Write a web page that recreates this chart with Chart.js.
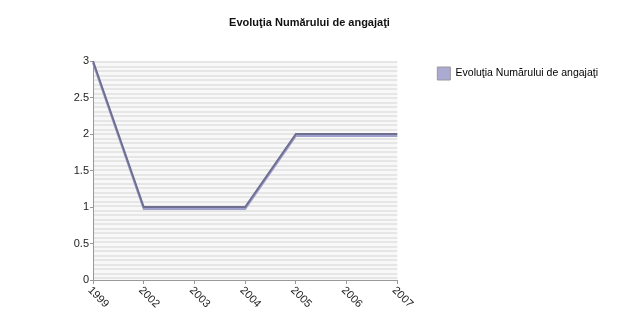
<!DOCTYPE html>
<html>
<head>
<meta charset="utf-8">
<script src="https://cdn.jsdelivr.net/npm/chart.js@4/dist/chart.umd.min.js"></script>
<style>
  html, body { margin: 0; padding: 0; background: #fff; }
  #wrap { width: 619px; height: 324px; }
</style>
</head>
<body>
<div id="wrap"><canvas id="chart" width="619" height="324"></canvas></div>
<script>
// data
const years = ['1999', '2002', '2003', '2004', '2005', '2006', '2007'];
const employees = [3, 1, 1, 1, 2, 2, 2];
const yTicks = [0, 0.5, 1, 1.5, 2, 2.5, 3];
const seriesName = 'Evoluţia Numărului de angajaţi';

const FONT = "'Liberation Sans', Arial, sans-serif";

// striped plot background + rotated year labels
const decor = {
    id: 'decor',
    beforeDraw(chart) {
        const { ctx, chartArea: a } = chart;
        ctx.save();
        ctx.fillStyle = '#f8f8f8';
        ctx.fillRect(a.left, a.top, a.right - a.left, a.bottom - a.top);
        ctx.fillStyle = '#e6e6e6';
        for (let y = a.top; y < a.bottom; y += 4.5) {
            ctx.fillRect(a.left, Math.round(y), a.right - a.left, 2);
        }
        ctx.restore();
    },
    beforeDatasetDraw(chart) {
        const ctx = chart.ctx;
        ctx.save();
        ctx.shadowColor = 'rgba(150, 150, 200, 0.9)';
        ctx.shadowOffsetY = 2;
        ctx.shadowBlur = 0;
    },
    afterDatasetDraw(chart) {
        chart.ctx.restore();
    },
    afterDraw(chart) {
        const { ctx, chartArea: a } = chart;
        const xs = chart.scales.x;
        ctx.save();
        ctx.fillStyle = '#222';
        ctx.font = '11px ' + FONT;
        ctx.textAlign = 'left';
        ctx.textBaseline = 'middle';
        years.forEach((lbl, i) => {
            const px = xs.getPixelForValue(i);
            ctx.save();
            ctx.translate(px - 2, a.bottom + 10);
            ctx.rotate(Math.PI / 4);
            ctx.fillText(lbl, -2, 0);
            ctx.restore();
        });
        ctx.restore();
    }
};

new Chart(document.getElementById('chart'), {
    type: 'line',
    data: {
        labels: years,
        datasets: [{
            label: seriesName,
            data: employees,
            borderColor: '#6f6f92',
            backgroundColor: '#aaaad2',
            borderWidth: 2,
            pointRadius: 0,
            tension: 0,
            fill: false
        }]
    },
    options: {
        responsive: false,
        animation: false,
        layout: { padding: { top: 27, right: 11, left: 11, bottom: 0 } },
        plugins: {
            title: {
                display: true,
                text: seriesName,
                color: '#111',
                font: { family: FONT, size: 11, weight: 'bold' },
                padding: { top: -10.6, bottom: 31.4 }
            },
            legend: {
                position: 'right',
                align: 'start',
                maxWidth: 400,
                labels: {
                    boxWidth: 13,
                    boxHeight: 13,
                    padding: 40,
                    color: '#222',
                    font: { family: FONT, size: 10.5 },
                    generateLabels: () => [{
                        text: seriesName,
                        fillStyle: '#aaaad2',
                        strokeStyle: '#999',
                        lineWidth: 1,
                        datasetIndex: 0
                    }]
                }
            },
            tooltip: { enabled: false }
        },
        scales: {
            x: {
                offset: false,
                grid: { drawOnChartArea: false, tickLength: 4, color: '#999' },
                border: { color: '#999' },
                ticks: { display: false },
                afterFit: (s) => { s.height = 44; }
            },
            y: {
                min: 0,
                max: 3,
                afterBuildTicks: (s) => { s.ticks = yTicks.map(v => ({ value: v })); },
                grid: { drawOnChartArea: false, tickLength: 3, color: '#999' },
                border: { color: '#999' },
                ticks: {
                    color: '#222',
                    padding: 1,
                    font: { family: FONT, size: 11 },
                    callback: (v) => String(v)
                },
                afterFit: (s) => { s.width = 82; }
            }
        }
    },
    plugins: [decor]
});
</script>
</body>
</html>
